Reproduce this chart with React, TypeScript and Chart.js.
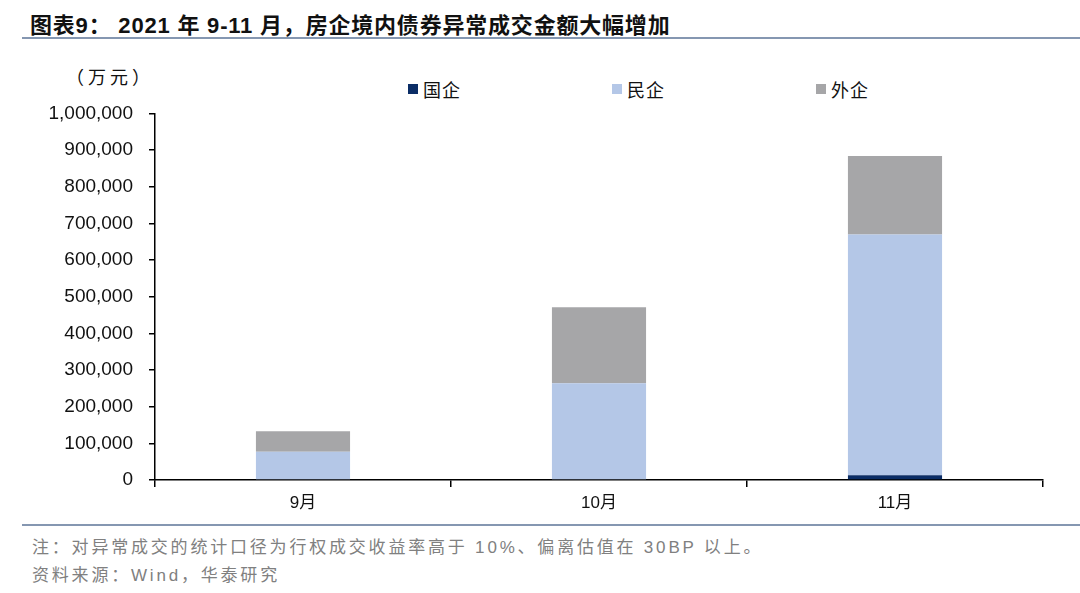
import { useEffect, useRef } from "react";
import Chart from "chart.js/auto";

const months = ["9月", "10月", "11月"];
const stateOwned = [0, 0, 13000]; // 国企
const privateOwned = [77000, 264000, 657000]; // 民企
const foreignOwned = [56000, 207000, 214000]; // 外企
const seriesNames = ["国企", "民企", "外企"];
const seriesColors = ["#0b2d66", "#b4c7e7", "#a6a6a8"];

const FONT = '"Liberation Sans", "Noto Sans CJK SC", sans-serif';

export default function App() {
  const chartRef = useRef<HTMLCanvasElement>(null);
  const chartInstance = useRef<Chart | null>(null);

  useEffect(() => {
    const ctx = chartRef.current?.getContext("2d");
    if (!ctx) return;

    if (chartInstance.current) {
      chartInstance.current.destroy();
    }

    chartInstance.current = new Chart(ctx, {
      type: "bar",
      data: {
        labels: months,
        datasets: [stateOwned, privateOwned, foreignOwned].map((d, i) => ({
          label: seriesNames[i],
          data: d,
          backgroundColor: seriesColors[i],
          borderWidth: 0,
          categoryPercentage: 1,
          barPercentage: 0.318,
        })),
      },
      options: {
        animation: false,
        responsive: false,
        maintainAspectRatio: false,
        layout: { padding: { top: 0, right: 37, left: 0, bottom: 0 } },
        plugins: {
          legend: { display: false },
          tooltip: { enabled: false },
        },
        scales: {
          x: {
            stacked: true,
            afterFit: (s: any) => {
              s.height = 40;
            },
            border: { display: true, color: "#000", width: 1.5 },
            grid: {
              display: true,
              offset: true,
              drawOnChartArea: false,
              drawTicks: true,
              tickLength: 7,
              color: "#000",
              lineWidth: 1.5,
            },
            ticks: {
              color: "#111",
              padding: 6,
              font: { family: FONT, size: 17 },
            },
          },
          y: {
            stacked: true,
            min: 0,
            max: 1000000,
            afterFit: (s: any) => {
              s.width = 155;
            },
            border: { display: true, color: "#000", width: 1.5 },
            grid: {
              display: true,
              drawOnChartArea: false,
              drawTicks: true,
              tickLength: 6,
              color: "#000",
              lineWidth: 1.5,
            },
            ticks: {
              stepSize: 100000,
              color: "#111",
              padding: 16,
              font: { family: FONT, size: 19 },
              callback: (v: any) => Number(v).toLocaleString("en-US"),
            },
          },
        },
      },
    });

    return () => {
      chartInstance.current?.destroy();
    };
  }, []);

  return (
    <div
      style={{
        position: "absolute",
        left: 0,
        top: 0,
        width: 1080,
        height: 593,
        background: "#fff",
        fontFamily: FONT,
        overflow: "hidden",
      }}
    >
      <div
        style={{
          position: "absolute",
          left: 30,
          top: 7,
          fontSize: 22,
          fontWeight: "bold",
          color: "#111",
          whiteSpace: "nowrap",
          letterSpacing: 0.8,
        }}
      >
        图表9： 2021 年 9-11 月，房企境内债券异常成交金额大幅增加
      </div>
      <div
        style={{
          position: "absolute",
          left: 22,
          right: 0,
          top: 37,
          height: 2,
          background: "#8597b1",
        }}
      />
      <div
        style={{
          position: "absolute",
          left: 66,
          top: 63,
          fontSize: 18,
          color: "#111",
          letterSpacing: 4,
          whiteSpace: "nowrap",
        }}
      >
        （万元）
      </div>
      {seriesNames.map((name, i) => (
        <div
          key={name}
          style={{
            position: "absolute",
            left: 408 + i * 204,
            top: 76,
            fontSize: 18,
            color: "#111",
            display: "flex",
            alignItems: "center",
            whiteSpace: "nowrap",
            letterSpacing: 1,
          }}
        >
          <span
            style={{
              display: "inline-block",
              width: 10,
              height: 10,
              background: seriesColors[i],
              marginRight: 5,
            }}
          />
          {name}
        </div>
      ))}
      <canvas
        ref={chartRef}
        width={1080}
        height={434}
        style={{ position: "absolute", left: 0, top: 86, width: 1080, height: 434 }}
      />
      <div
        style={{
          position: "absolute",
          left: 22,
          right: 0,
          top: 524,
          height: 2,
          background: "#8597b1",
        }}
      />
      <div
        style={{
          position: "absolute",
          left: 32,
          top: 533,
          fontSize: 17,
          color: "#808080",
          whiteSpace: "nowrap",
          letterSpacing: 2.8,
        }}
      >
        注：对异常成交的统计口径为行权成交收益率高于 10%、偏离估值在 30BP 以上。
      </div>
      <div
        style={{
          position: "absolute",
          left: 32,
          top: 561,
          fontSize: 17,
          color: "#808080",
          whiteSpace: "nowrap",
          letterSpacing: 2.8,
        }}
      >
        资料来源：Wind，华泰研究
      </div>
    </div>
  );
}
